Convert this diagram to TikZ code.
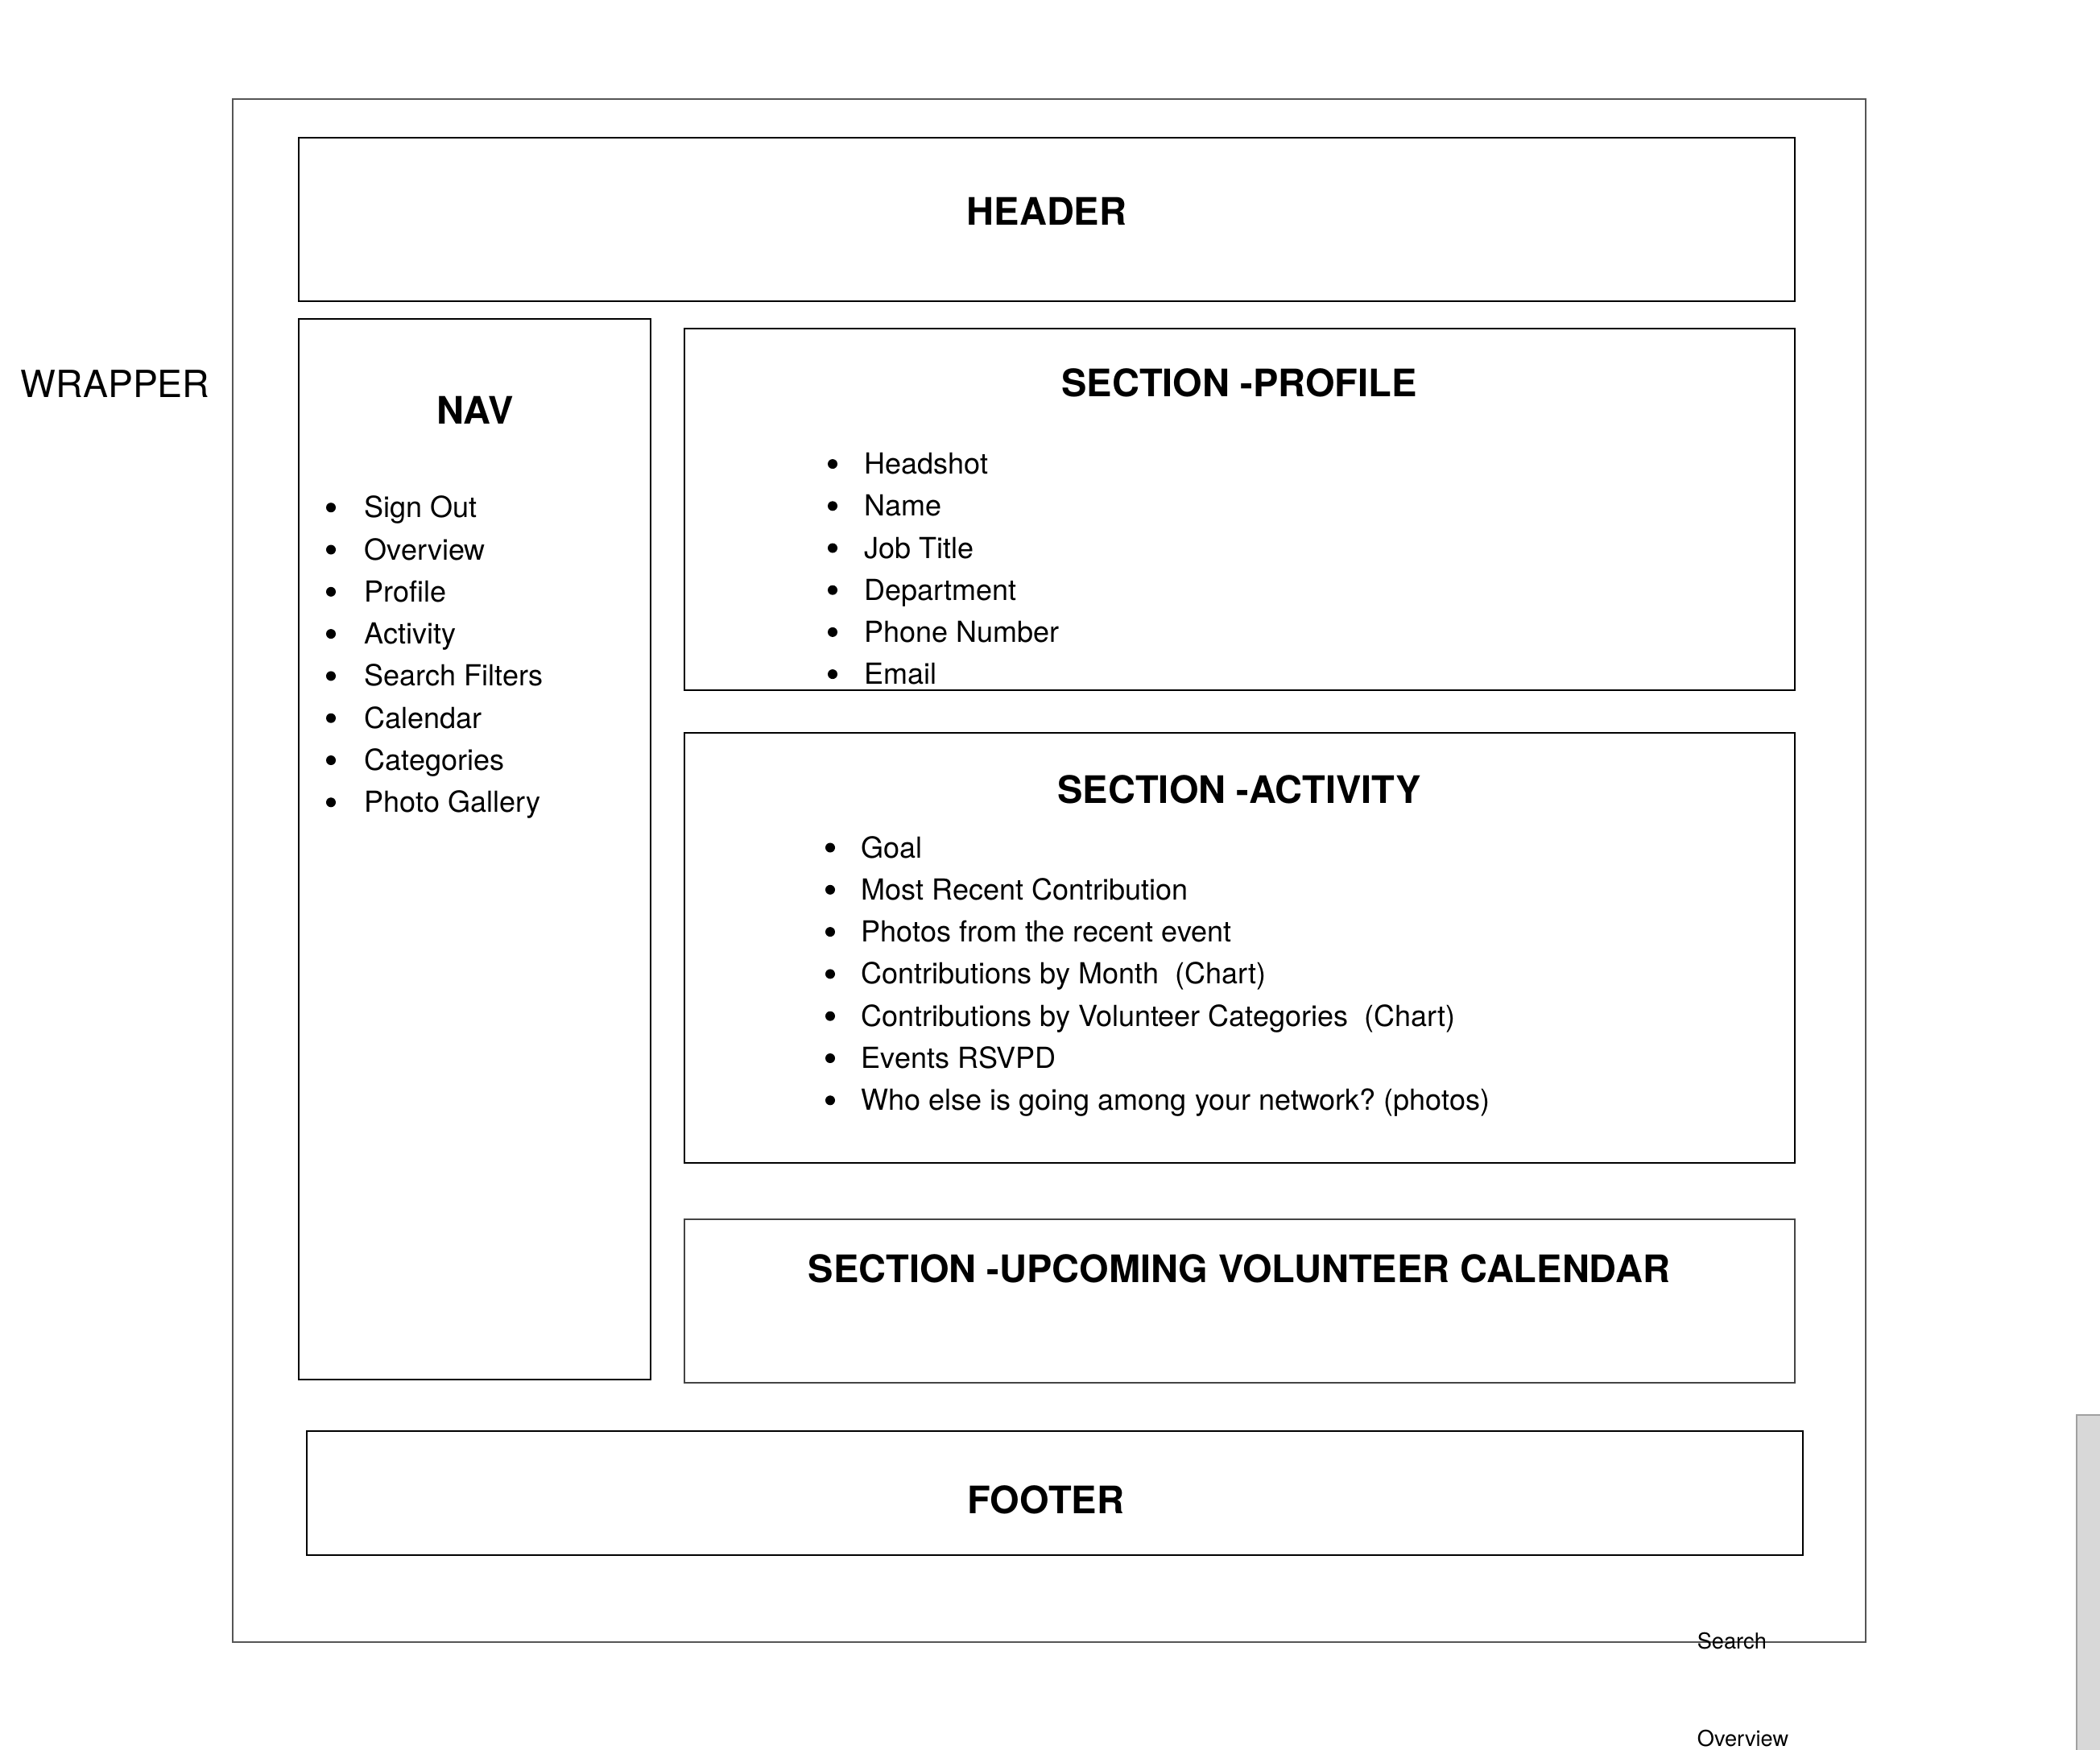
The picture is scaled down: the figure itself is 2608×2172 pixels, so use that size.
\documentclass[tikz,border=0pt]{standalone}
\usepackage{fontspec}
\setmainfont{TeX Gyre Heros}
\usetikzlibrary{fit}
\frenchspacing

\definecolor{framegray}{HTML}{555555}
\definecolor{calgray}{HTML}{444444}
\definecolor{barfill}{HTML}{D8D8D8}
\definecolor{barline}{HTML}{A0A0A0}

\begin{document}
\begin{tikzpicture}[x=0.25pt,y=-0.25pt,
  frame/.style={draw=framegray, line width=0.5pt, inner sep=0pt},
  box/.style={draw=black, line width=0.55pt, inner sep=0pt},
  title/.style={font=\fontsize{11.75}{14}\selectfont\bfseries, anchor=base, inner sep=0pt},
  label/.style={font=\fontsize{11.6}{14}\selectfont, anchor=base west, inner sep=0pt},
  item/.style={font=\fontsize{9}{13}\selectfont, anchor=base west, inner sep=0pt},
  dot/.style={circle, fill=black, inner sep=0pt, minimum size=3pt},
  small/.style={font=\fontsize{6.8}{8}\selectfont, anchor=base west, inner sep=0pt}]

% page
\fill[white] (0,0) rectangle (2608,2172);
\useasboundingbox (0,0) rectangle (2608,2172);

% outer wrapper
\node[frame, fit={(289,123) (2317,2039)}] (wrapper) {};
\node[label] (wraplbl) at (25,493) {WRAPPER};

% header
\node[box, fit={(371,171) (2229,374)}] (header) {};
\node[title] (headerlbl) at (1300,280) {HEADER};

% navigation column
\node[box, fit={(371,396) (808,1713)}] (nav) {};
\node[title] (navlbl) at (590,526) {NAV};
\foreach \t [count=\i from 0] in {Sign Out, Overview, Profile, Activity, Search Filters, Calendar, Categories, Photo Gallery}{
  \node[dot] (navdot\i) at (411,630.2+52.3*\i) {};
  \node[item] (nav\i) at (452,642.7+52.3*\i) {\t};
}

% profile section
\node[box, fit={(850,408) (2229,857)}] (profile) {};
\node[title] (profilelbl) at (1539,492) {SECTION -PROFILE};
\foreach \t [count=\i from 0] in {Headshot, Name, Job Title, Department, Phone Number, Email}{
  \node[dot] (profdot\i) at (1034,576.1+52.2*\i) {};
  \node[item] (prof\i) at (1073,588.6+52.2*\i) {\t};
}

% activity section
\node[box, fit={(850,910) (2229,1444)}] (activity) {};
\node[title] (activitylbl) at (1539,997) {SECTION -ACTIVITY};
\foreach \t [count=\i from 0] in {Goal, Most Recent Contribution, Photos from the recent event, {Contributions by Month\ \ (Chart)}, {Contributions by Volunteer Categories\ \ (Chart)}, Events RSVPD, Who else is going among your network? (photos)}{
  \node[dot] (actdot\i) at (1031,1052.5+52.3*\i) {};
  \node[item] (act\i) at (1069,1065+52.3*\i) {\t};
}

% calendar section
\node[draw=calgray, line width=0.55pt, inner sep=0pt, fit={(850,1514) (2229,1717)}] (calendar) {};
\node[title] (calendarlbl) at (1539,1592) {SECTION -UPCOMING VOLUNTEER CALENDAR};

% footer
\node[box, fit={(381,1777) (2239,1931)}] (footer) {};
\node[title] (footerlbl) at (1299,1879) {FOOTER};

% stray labels and scroll bar at the lower right
\node[small] (search) at (2107,2047) {Search};
\node[small] (overview) at (2107,2168) {Overview};
\filldraw[fill=barfill, draw=barline, line width=0.5pt] (2579,1757) rectangle (2620,2190);
\end{tikzpicture}
\end{document}
